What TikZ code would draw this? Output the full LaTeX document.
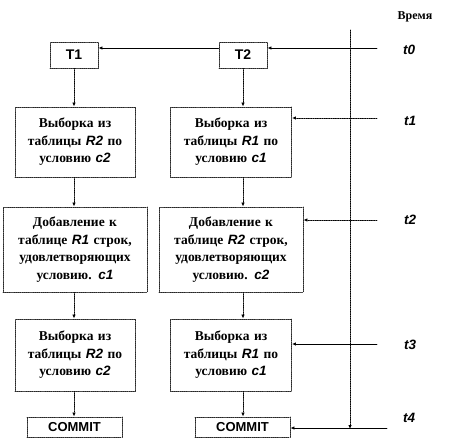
\documentclass[tikz,border=0pt]{standalone}
\usepackage{fontspec}
\setmainfont{Liberation Serif}
\newfontfamily\arialfont{Liberation Sans}
\usetikzlibrary{arrows.meta}
\newcommand{\vrb}[1]{{\arialfont\itshape\bfseries #1}}
\begin{document}
\begin{tikzpicture}[x=1pt,y=-1pt,line cap=round,line join=round,>={Latex[length=4pt,width=3.5pt]},
  box/.style={draw=black!85,densely dotted,line width=0.9pt,align=center,inner sep=2pt,
    font=\fontsize{13.5}{17.5}\selectfont\bfseries},
  trbox/.style={draw=black!85,densely dotted,line width=0.9pt,minimum width=48pt,minimum height=26pt,
    font=\arialfont\bfseries\fontsize{14}{16}\selectfont},
  cmbox/.style={draw=black!85,densely dotted,line width=0.9pt,minimum width=95pt,minimum height=20pt,
    font=\arialfont\bfseries\fontsize{13}{15}\selectfont},
  tlab/.style={font=\arialfont\itshape\bfseries\fontsize{13.5}{15}\selectfont},
  flow/.style={->,densely dotted,line width=0.8pt},
  tick/.style={->,line width=0.8pt}]
  \useasboundingbox (0,0) rectangle (462,444);
  % time axis
  \node[font=\fontsize{12}{14}\selectfont\bfseries] (time) at (415,17) {Время};
  \coordinate (axtop) at (350,30);
  \coordinate (axbot) at (350,429);
  \draw[flow] (axtop) -- (axbot);
  % transactions
  \node[trbox] (T1) at (74,55) {T1};
  \node[trbox] (T2) at (243,55) {T2};
  \node[box,minimum width=120pt,minimum height=70pt,text width=114pt] (a1) at (75,142)
    {Выборка из\\таблицы \vrb{R2} по\\условию \vrb{c2}};
  \node[box,minimum width=121pt,minimum height=70pt,text width=114pt] (b1) at (231,142)
    {Выборка из\\таблицы \vrb{R1} по\\условию \vrb{c1}};
  \node[box,minimum width=144pt,minimum height=85pt,text width=138pt] (a2) at (75,249.5)
    {Добавление к\\таблице \vrb{R1} строк,\\удовлетворяющих\\условию. \vrb{c1}};
  \node[box,minimum width=144pt,minimum height=85pt,text width=138pt] (b2) at (231,249.5)
    {Добавление к\\таблице \vrb{R2} строк,\\удовлетворяющих\\условию. \vrb{c2}};
  \node[box,minimum width=120pt,minimum height=72pt,text width=114pt] (a3) at (75,355)
    {Выборка из\\таблицы \vrb{R2} по\\условию \vrb{c2}};
  \node[box,minimum width=121pt,minimum height=72pt,text width=114pt] (b3) at (231,355)
    {Выборка из\\таблицы \vrb{R1} по\\условию \vrb{c1}};
  \node[cmbox] (a4) at (74.5,427) {COMMIT};
  \node[cmbox] (b4) at (242.5,427) {COMMIT};
  % flow in each transaction
  \draw[flow] (T1) -- (a1.north -| T1);
  \draw[flow] (a1.south -| T1) -- (a2.north -| T1);
  \draw[flow] (a2.south -| T1) -- (a3.north -| T1);
  \draw[flow] (a3.south -| T1) -- (a4.north -| T1);
  \draw[flow] (T2) -- (b1.north -| T2);
  \draw[flow] (b1.south -| T2) -- (b2.north -| T2);
  \draw[flow] (b2.south -| T2) -- (b3.north -| T2);
  \draw[flow] (b3.south -| T2) -- (b4.north -| T2);
  % time marks
  \node[tlab] (t0) at (409,50) {t0};
  \node[tlab] (t1) at (410,121) {t1};
  \node[tlab] (t2) at (410,220) {t2};
  \node[tlab] (t3) at (410,345) {t3};
  \node[tlab] (t4) at (409,418) {t4};
  \coordinate (s0) at (377,48);
  \coordinate (s1) at (377,118);
  \coordinate (s2) at (377,220);
  \coordinate (s3) at (377,344);
  \coordinate (s4) at (387,428);
  \draw[tick] (s0) -- (s0 -| T2.east);
  \draw[tick] (T2.west |- s0) -- (s0 -| T1.east);
  \draw[flow] (s1) -- (s1 -| b1.east);
  \draw[flow] (s2) -- (s2 -| b2.east);
  \draw[tick] (s3) -- (s3 -| b3.east);
  \draw[tick] (s4) -- (s4 -| b4.east);
\end{tikzpicture}
\end{document}
